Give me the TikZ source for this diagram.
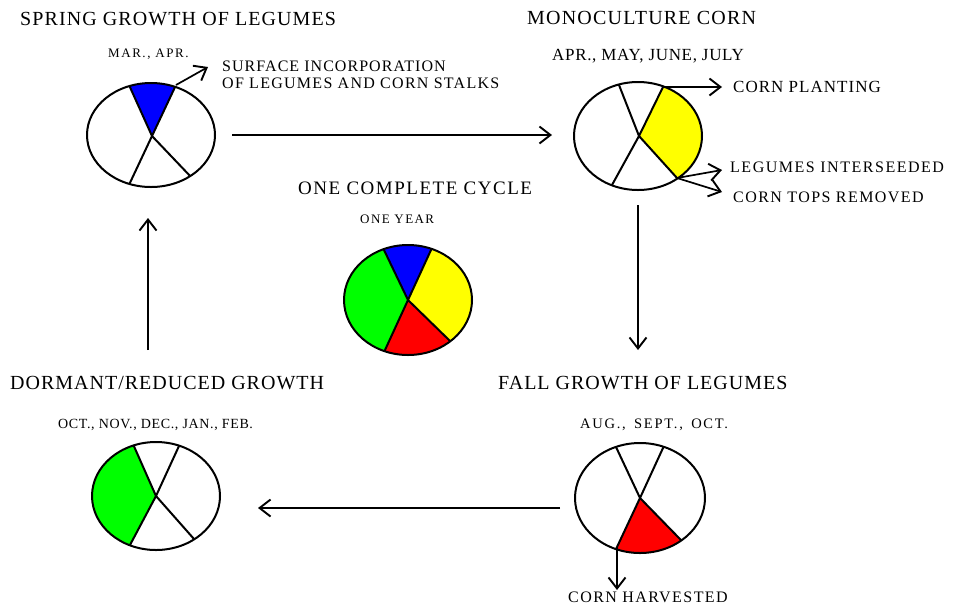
\documentclass[tikz,border=0pt]{standalone}
\usepackage{fontspec}
\setmainfont{Liberation Serif}
\usetikzlibrary{arrows.meta,calc}
\newcommand{\lbl}[3]{{\fontsize{#1}{#1}\selectfont\addfontfeatures{LetterSpace=#2}#3}}
\definecolor{pieblue}{RGB}{0,0,255}
\definecolor{pieyellow}{RGB}{255,255,0}
\definecolor{piered}{RGB}{255,0,0}
\definecolor{piegreen}{RGB}{0,255,0}
\begin{document}
\begin{tikzpicture}[x=1pt,y=-1pt,
  txt/.style={anchor=base west, inner sep=0pt},
  conn/.style={line width=1.7pt, -{Straight Barb[length=11pt,width=17pt,line width=1.9pt]}},
  pie/.style={line width=2pt, line join=round}]
\useasboundingbox (0,0) rectangle (953,606);

% ---------- titles and labels ----------
\node[txt] (t1) at (20,25) {\lbl{20}{5.5}{SPRING GROWTH OF LEGUMES}};
\node[txt] (m1) at (108,57) {\lbl{13}{12}{MAR., APR.}};
\node[txt] (s1) at (222,71) {\lbl{16}{6.5}{SURFACE INCORPORATION}};
\node[txt] (s2) at (222,88) {\lbl{16}{8}{OF LEGUMES AND CORN STALKS}};

\node[txt] (t2) at (527,24) {\lbl{20}{6}{MONOCULTURE CORN}};
\node[txt] (m2) at (552,60) {\lbl{17}{4}{APR., MAY, JUNE, JULY}};
\node[txt] (cp) at (733,92) {\lbl{17}{6}{CORN PLANTING}};
\node[txt] (li) at (730,172) {\lbl{16}{9.5}{LEGUMES INTERSEEDED}};
\node[txt] (ct) at (733,202) {\lbl{16}{9}{CORN TOPS REMOVED}};

\node[txt] (t0) at (298,194) {\lbl{19}{8}{ONE COMPLETE CYCLE}};
\node[txt] (m0) at (360,223) {\lbl{13}{11}{ONE YEAR}};

\node[txt] (t4) at (10,389) {\lbl{20}{5}{DORMANT/REDUCED GROWTH}};
\node[txt] (m4) at (58,428) {\lbl{14}{4.5}{OCT., NOV., DEC., JAN., FEB.}};

\node[txt] (t3) at (498,389) {\lbl{20}{5}{FALL GROWTH OF LEGUMES}};
\node[txt] (m3) at (580,428) {\lbl{14.5}{12}{AUG.,\hspace{3pt} SEPT.,\hspace{3pt} OCT.}};
\node[txt] (ch) at (568,602) {\lbl{16}{9}{CORN HARVESTED}};

% ---------- pie 1: spring ----------
\coordinate (p1c) at (152,136);
\coordinate (p1a) at (129,85);
\coordinate (p1b) at (176,85);
\coordinate (p1d) at (128,187);
\coordinate (p1e) at (192,178);
\begin{scope}
  \clip (151,135) ellipse [x radius=64pt, y radius=52pt];
  \fill[pieblue] (p1c) -- ($(p1c)!3!(p1a)$) -- ($(p1c)!3!(p1b)$) -- cycle;
  \draw[pie] (p1c) -- ($(p1c)!3!(p1a)$) (p1c) -- ($(p1c)!3!(p1b)$)
             (p1c) -- ($(p1c)!3!(p1d)$) (p1c) -- ($(p1c)!3!(p1e)$);
\end{scope}
\draw[pie] (151,135) ellipse [x radius=64pt, y radius=52pt];

% ---------- pie 2: monoculture ----------
\coordinate (p2c) at (639,136);
\coordinate (p2a) at (619,85);
\coordinate (p2b) at (663,87);
\coordinate (p2d) at (612,185);
\coordinate (p2e) at (677,178);
\begin{scope}
  \clip (638,136) ellipse [x radius=64pt, y radius=54pt];
  \fill[pieyellow] (p2c) -- ($(p2c)!3!(p2b)$) -- (800,136) -- ($(p2c)!3!(p2e)$) -- cycle;
  \draw[pie] (p2c) -- ($(p2c)!3!(p2a)$) (p2c) -- ($(p2c)!3!(p2b)$)
             (p2c) -- ($(p2c)!3!(p2d)$) (p2c) -- ($(p2c)!3!(p2e)$);
\end{scope}
\draw[pie] (638,136) ellipse [x radius=64pt, y radius=54pt];

% ---------- pie 0: complete cycle ----------
\coordinate (p0c) at (408,300);
\coordinate (p0a) at (384,250);
\coordinate (p0b) at (431,250);
\coordinate (p0d) at (449,340);
\coordinate (p0e) at (385,350);
\begin{scope}
  \clip (408,300) ellipse [x radius=64pt, y radius=55pt];
  \fill[pieblue] (p0c) -- ($(p0c)!3!(p0a)$) -- ($(p0c)!3!(p0b)$) -- cycle;
  \fill[pieyellow] (p0c) -- ($(p0c)!3!(p0b)$) -- (560,300) -- ($(p0c)!3!(p0d)$) -- cycle;
  \fill[piered] (p0c) -- ($(p0c)!3!(p0d)$) -- (410,470) -- ($(p0c)!3!(p0e)$) -- cycle;
  \fill[piegreen] (p0c) -- ($(p0c)!3!(p0e)$) -- (250,300) -- ($(p0c)!3!(p0a)$) -- cycle;
  \draw[pie] (p0c) -- ($(p0c)!3!(p0a)$) (p0c) -- ($(p0c)!3!(p0b)$)
             (p0c) -- ($(p0c)!3!(p0d)$) (p0c) -- ($(p0c)!3!(p0e)$);
\end{scope}
\draw[pie] (408,300) ellipse [x radius=64pt, y radius=55pt];

% ---------- pie 3: fall ----------
\coordinate (p3c) at (640,498);
\coordinate (p3a) at (616,447);
\coordinate (p3b) at (663,448);
\coordinate (p3d) at (617,547);
\coordinate (p3e) at (679,538);
\begin{scope}
  \clip (640,498) ellipse [x radius=65pt, y radius=55pt];
  \fill[piered] (p3c) -- ($(p3c)!3!(p3d)$) -- (660,680) -- ($(p3c)!3!(p3e)$) -- cycle;
  \draw[pie] (p3c) -- ($(p3c)!3!(p3a)$) (p3c) -- ($(p3c)!3!(p3b)$)
             (p3c) -- ($(p3c)!3!(p3d)$) (p3c) -- ($(p3c)!3!(p3e)$);
\end{scope}
\draw[pie] (640,498) ellipse [x radius=65pt, y radius=55pt];

% ---------- pie 4: dormant ----------
\coordinate (p4c) at (156,496);
\coordinate (p4a) at (133,444);
\coordinate (p4b) at (179,446);
\coordinate (p4d) at (130,545);
\coordinate (p4e) at (194,539);
\begin{scope}
  \clip (156,496) ellipse [x radius=64pt, y radius=54pt];
  \fill[piegreen] (p4c) -- ($(p4c)!3!(p4a)$) -- (0,496) -- ($(p4c)!3!(p4d)$) -- cycle;
  \draw[pie] (p4c) -- ($(p4c)!3!(p4a)$) (p4c) -- ($(p4c)!3!(p4b)$)
             (p4c) -- ($(p4c)!3!(p4d)$) (p4c) -- ($(p4c)!3!(p4e)$);
\end{scope}
\draw[pie] (156,496) ellipse [x radius=64pt, y radius=54pt];

% ---------- connectors ----------
\coordinate (e1) at (208,67);
\coordinate (e2) at (722,87);
\coordinate (e3) at (722,170);
\coordinate (e4) at (722,192);
\coordinate (e5) at (617,590);
\draw[conn] (p1b) -- (e1);
\draw[conn] (p2b) -- (e2);
\draw[conn] (p2e) -- (e3);
\draw[conn] (p2e) -- (e4);
\draw[conn] (p3d) -- (e5);

\coordinate (h1s) at (232,135);
\coordinate (h1e) at (552,135);
\coordinate (v1s) at (638,205);
\coordinate (v1e) at (638,350);
\coordinate (h2s) at (560,508);
\coordinate (h2e) at (258,508);
\coordinate (v2s) at (148,350);
\coordinate (v2e) at (148,218);
\draw[conn] (h1s) -- (h1e);
\draw[conn] (v1s) -- (v1e);
\draw[conn] (h2s) -- (h2e);
\draw[conn] (v2s) -- (v2e);
\end{tikzpicture}
\end{document}
